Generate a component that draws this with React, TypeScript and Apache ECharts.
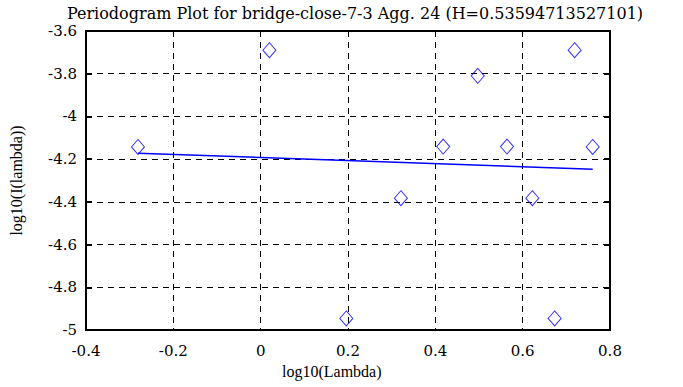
import React, { useEffect, useRef } from "react";
import * as echarts from "echarts";

const titleText = "Periodogram Plot for bridge-close-7-3 Agg. 24 (H=0.53594713527101)";
const xName = "log10(Lambda)";
const yName = "log10(I(lambda))";
const logLambda = [-0.281, 0.02, 0.1961, 0.3211, 0.418, 0.4971, 0.5641, 0.6221, 0.6732, 0.719, 0.7604];
const logI = [-4.143, -3.69, -4.946, -4.383, -4.141, -3.81, -4.141, -4.383, -4.946, -3.69, -4.143];
const fitX = [-0.281, 0.7604];
const fitY = [-4.172, -4.247];
const xRange = [-0.4, 0.8];
const yRange = [-5, -3.6];

export default function App() {
  const ref = useRef<HTMLDivElement>(null);
  useEffect(() => {
    if (!ref.current) return;
    const chart = echarts.init(ref.current, null, { renderer: "svg" });
    const font = "DejaVu Serif";
    const nameFont = "Liberation Serif";
    const fmt = (v: number) => String(Math.round(v * 10) / 10);
    chart.setOption({
      animation: false,
      backgroundColor: "#fff",
      title: {
        text: titleText,
        left: 350,
        textAlign: "center",
        top: 0,
        textStyle: { fontFamily: font, fontWeight: "normal", fontSize: 16, color: "#000" },
      },
      grid: {
        left: 82, right: 73, top: 31, bottom: 57,
        show: true, borderColor: "#000", borderWidth: 2, backgroundColor: "transparent",
      },
      graphic: [
        {
          type: "text",
          left: 282,
          top: 363,
          style: { text: xName, fontFamily: nameFont, fontSize: 16, fill: "#000" },
        },
      ],
      xAxis: {
        type: "value", min: xRange[0], max: xRange[1], interval: 0.2,
        axisLine: { show: true, onZero: false, lineStyle: { color: "#000", width: 2 } },
        axisTick: { show: false },
        splitLine: { show: true, lineStyle: { color: "#000", type: [6, 5], width: 1 } },
        axisLabel: { fontFamily: font, fontSize: 15, color: "#000", margin: 13, formatter: fmt },
      },
      yAxis: [
        {
          type: "value", min: yRange[0], max: yRange[1], interval: 0.2,
          name: yName, nameLocation: "middle", nameGap: 62,
          nameTextStyle: { fontFamily: nameFont, fontSize: 16, color: "#000" },
          axisLine: { show: true, onZero: false, lineStyle: { color: "#000", width: 2 } },
          axisTick: { show: true, inside: true, length: 6, lineStyle: { color: "#000", width: 2 } },
          splitLine: { show: true, lineStyle: { color: "#000", type: [6, 5], width: 1 } },
          axisLabel: { fontFamily: font, fontSize: 15, color: "#000", margin: 9, formatter: fmt },
        },
        {
          type: "value", min: yRange[0], max: yRange[1], interval: 0.2, position: "right",
          axisLine: { show: true, onZero: false, lineStyle: { color: "#000", width: 2 } },
          axisTick: { show: true, inside: true, length: 6, lineStyle: { color: "#000", width: 2 } },
          splitLine: { show: false },
          axisLabel: { show: false },
        },
      ],
      series: [
        {
          type: "scatter",
          data: logLambda.map((x, i) => [x, logI[i]]),
          symbol: "path://M0,-1 L1,0 L0,1 L-1,0 Z",
          symbolSize: [13, 15],
          itemStyle: { color: "rgba(0,0,0,0)", borderColor: "#0000ff", borderWidth: 1 },
          z: 3,
        },
        {
          type: "line",
          data: fitX.map((x, i) => [x, fitY[i]]),
          showSymbol: false,
          symbol: "none",
          lineStyle: { color: "#0000ff", width: 1.5 },
          z: 2,
        },
      ],
    });
    return () => chart.dispose();
  }, []);
  return (
    <div
      ref={ref}
      style={{ position: "fixed", left: 0, top: 0, width: 683, height: 387, background: "#fff" }}
    />
  );
}
